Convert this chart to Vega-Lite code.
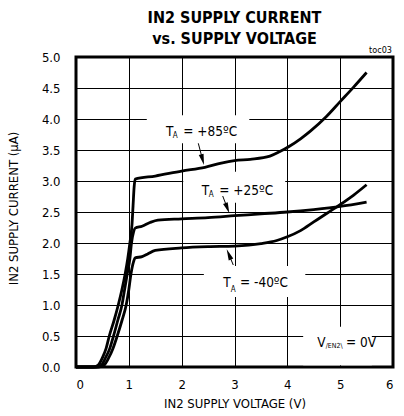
{
  "$schema": "https://vega.github.io/schema/vega-lite/v6.json",
  "autosize": "none",
  "width": 317,
  "height": 310,
  "padding": {"left": 76, "top": 57, "right": 11, "bottom": 49},
  "background": "white",
  "title": {
    "text": ["IN2 SUPPLY CURRENT", "vs. SUPPLY VOLTAGE"],
    "font": "'DejaVu Sans Condensed', 'Liberation Sans', sans-serif",
    "fontSize": 16,
    "fontWeight": "bold",
    "lineHeight": 21,
    "anchor": "middle",
    "color": "black",
    "offset": -1
  },
  "config": {
    "view": {"stroke": "black", "strokeWidth": 3},
    "font": "'DejaVu Sans Condensed', 'Liberation Sans', sans-serif",
    "axis": {
      "grid": true,
      "gridColor": "black",
      "gridOpacity": 1,
      "gridWidth": 1,
      "ticks": false,
      "tickSize": 0,
      "domain": false,
      "labelColor": "black",
      "titleColor": "black",
      "labelFont": "'DejaVu Sans Condensed', 'Liberation Sans', sans-serif",
      "titleFont": "'DejaVu Sans Condensed', 'Liberation Sans', sans-serif",
      "labelFontSize": 13,
      "titleFontSize": 13,
      "titleFontWeight": "normal"
    }
  },
  "datasets": {
    "curves": [
      {"temp": "+85", "x": 0, "y": 0}, {"temp": "+85", "x": 0.33, "y": 0}, {"temp": "+85", "x": 0.42, "y": 0.03}, {"temp": "+85", "x": 0.5, "y": 0.15}, {"temp": "+85", "x": 0.57, "y": 0.3}, {"temp": "+85", "x": 0.63, "y": 0.5}, {"temp": "+85", "x": 0.72, "y": 0.75}, {"temp": "+85", "x": 0.8, "y": 1.0}, {"temp": "+85", "x": 0.87, "y": 1.25}, {"temp": "+85", "x": 0.93, "y": 1.5}, {"temp": "+85", "x": 0.98, "y": 1.75}, {"temp": "+85", "x": 1.02, "y": 2.0}, {"temp": "+85", "x": 1.06, "y": 2.3}, {"temp": "+85", "x": 1.08, "y": 2.6}, {"temp": "+85", "x": 1.1, "y": 2.9}, {"temp": "+85", "x": 1.12, "y": 3.03}, {"temp": "+85", "x": 1.5, "y": 3.08}, {"temp": "+85", "x": 2.0, "y": 3.16}, {"temp": "+85", "x": 2.44, "y": 3.22}, {"temp": "+85", "x": 2.75, "y": 3.29}, {"temp": "+85", "x": 3.0, "y": 3.33}, {"temp": "+85", "x": 3.3, "y": 3.35}, {"temp": "+85", "x": 3.67, "y": 3.4}, {"temp": "+85", "x": 3.85, "y": 3.47}, {"temp": "+85", "x": 4.04, "y": 3.56}, {"temp": "+85", "x": 4.25, "y": 3.68}, {"temp": "+85", "x": 4.43, "y": 3.8}, {"temp": "+85", "x": 4.74, "y": 4.04}, {"temp": "+85", "x": 5.0, "y": 4.28}, {"temp": "+85", "x": 5.25, "y": 4.51}, {"temp": "+85", "x": 5.5, "y": 4.75},
      {"temp": "+25", "x": 0, "y": 0}, {"temp": "+25", "x": 0.38, "y": 0}, {"temp": "+25", "x": 0.48, "y": 0.03}, {"temp": "+25", "x": 0.56, "y": 0.15}, {"temp": "+25", "x": 0.64, "y": 0.3}, {"temp": "+25", "x": 0.71, "y": 0.5}, {"temp": "+25", "x": 0.79, "y": 0.75}, {"temp": "+25", "x": 0.87, "y": 1.0}, {"temp": "+25", "x": 0.92, "y": 1.25}, {"temp": "+25", "x": 0.97, "y": 1.5}, {"temp": "+25", "x": 1.02, "y": 1.75}, {"temp": "+25", "x": 1.05, "y": 2.0}, {"temp": "+25", "x": 1.09, "y": 2.18}, {"temp": "+25", "x": 1.12, "y": 2.24}, {"temp": "+25", "x": 1.25, "y": 2.27}, {"temp": "+25", "x": 1.4, "y": 2.33}, {"temp": "+25", "x": 1.55, "y": 2.37}, {"temp": "+25", "x": 2.0, "y": 2.39}, {"temp": "+25", "x": 2.5, "y": 2.41}, {"temp": "+25", "x": 3.0, "y": 2.44}, {"temp": "+25", "x": 3.5, "y": 2.47}, {"temp": "+25", "x": 4.0, "y": 2.5}, {"temp": "+25", "x": 4.5, "y": 2.54}, {"temp": "+25", "x": 5.0, "y": 2.59}, {"temp": "+25", "x": 5.5, "y": 2.66},
      {"temp": "-40", "x": 0, "y": 0}, {"temp": "-40", "x": 0.43, "y": 0}, {"temp": "-40", "x": 0.53, "y": 0.03}, {"temp": "-40", "x": 0.62, "y": 0.15}, {"temp": "-40", "x": 0.7, "y": 0.3}, {"temp": "-40", "x": 0.78, "y": 0.5}, {"temp": "-40", "x": 0.87, "y": 0.75}, {"temp": "-40", "x": 0.95, "y": 1.0}, {"temp": "-40", "x": 1.0, "y": 1.25}, {"temp": "-40", "x": 1.04, "y": 1.5}, {"temp": "-40", "x": 1.09, "y": 1.7}, {"temp": "-40", "x": 1.12, "y": 1.76}, {"temp": "-40", "x": 1.25, "y": 1.78}, {"temp": "-40", "x": 1.35, "y": 1.82}, {"temp": "-40", "x": 1.5, "y": 1.88}, {"temp": "-40", "x": 2.0, "y": 1.92}, {"temp": "-40", "x": 2.5, "y": 1.94}, {"temp": "-40", "x": 3.0, "y": 1.95}, {"temp": "-40", "x": 3.5, "y": 1.99}, {"temp": "-40", "x": 3.8, "y": 2.04}, {"temp": "-40", "x": 4.0, "y": 2.1}, {"temp": "-40", "x": 4.25, "y": 2.2}, {"temp": "-40", "x": 4.5, "y": 2.34}, {"temp": "-40", "x": 4.75, "y": 2.48}, {"temp": "-40", "x": 5.0, "y": 2.62}, {"temp": "-40", "x": 5.25, "y": 2.77}, {"temp": "-40", "x": 5.5, "y": 2.94}
    ],
    "boxes": [
      {"x": 1.34, "x2": 3.28, "y": 3.61, "y2": 4.06},
      {"x": 2.03, "x2": 3.96, "y": 2.65, "y2": 3.15},
      {"x": 2.42, "x2": 4.34, "y": 1.13, "y2": 1.63},
      {"x": 4.3, "x2": 5.6, "y": 0.03, "y2": 0.65}
    ],
    "arrows": [
      {"label": "+85", "x": 2.315, "y": 3.608, "x2": 2.396, "y2": 3.344},
      {"label": "+25", "x": 2.777, "y": 2.758, "x2": 2.865, "y2": 2.562},
      {"label": "-40", "x": 2.977, "y": 1.645, "x2": 2.893, "y2": 1.816}
    ],
    "labels": [
      {"part": "main", "x": 1.704, "y": 3.731, "text": "T"},
      {"part": "sub", "x": 1.83, "y": 3.689, "text": "A"},
      {"part": "main", "x": 2.03, "y": 3.731, "text": "= +85ºC"},
      {"part": "main", "x": 2.379, "y": 2.774, "text": "T"},
      {"part": "sub", "x": 2.511, "y": 2.737, "text": "A"},
      {"part": "main", "x": 2.712, "y": 2.774, "text": "= +25ºC"},
      {"part": "main", "x": 2.788, "y": 1.285, "text": "T"},
      {"part": "sub", "x": 2.928, "y": 1.214, "text": "A"},
      {"part": "main", "x": 3.104, "y": 1.285, "text": "= -40ºC"},
      {"part": "main", "x": 4.567, "y": 0.327, "text": "V"},
      {"part": "sub2", "x": 4.726, "y": 0.301, "text": "/EN2\\"},
      {"part": "main", "x": 5.11, "y": 0.327, "text": "= 0V"}
    ],
    "note": [{"x": 5.98, "y": 5.065, "text": "toc03"}]
  },
  "encoding": {
    "x": {
      "field": "x", "type": "quantitative",
      "scale": {"domain": [0, 6], "nice": false, "zero": false},
      "axis": {"values": [0, 1, 2, 3, 4, 5, 6], "format": "d", "labelPadding": 11, "labelBaseline": "top", "titleY": 40, "titleBaseline": "alphabetic"},
      "title": "IN2 SUPPLY VOLTAGE (V)"
    },
    "y": {
      "field": "y", "type": "quantitative",
      "scale": {"domain": [0, 5], "nice": false, "zero": false},
      "axis": {"values": [0, 0.5, 1, 1.5, 2, 2.5, 3, 3.5, 4, 4.5, 5], "format": ".1f", "labelPadding": 16, "titleX": -59, "titleY": 151, "titleAngle": 270, "titleBaseline": "alphabetic", "titleAlign": "center"},
      "title": "IN2 SUPPLY CURRENT (µA)"
    }
  },
  "layer": [
    {
      "data": {"name": "boxes"},
      "mark": {"type": "rect", "fill": "white", "stroke": null},
      "encoding": {"x2": {"field": "x2"}, "y2": {"field": "y2"}}
    },
    {
      "data": {"name": "curves"},
      "mark": {"type": "line", "color": "black", "strokeWidth": 2.8, "interpolate": "monotone"},
      "encoding": {"detail": {"field": "temp", "type": "nominal"}}
    },
    {
      "data": {"name": "arrows"},
      "mark": {"type": "rule", "color": "black", "strokeWidth": 1},
      "encoding": {"x2": {"field": "x2"}, "y2": {"field": "y2"}}
    },
    {
      "data": {"name": "arrows"},
      "transform": [{"filter": "datum.label == '+85'"}],
      "mark": {"type": "point", "shape": "M0,-1L0.45,1L-0.45,1Z", "filled": true, "color": "black", "opacity": 1, "size": 121, "angle": 165},
      "encoding": {"x": {"field": "x2", "type": "quantitative"}, "y": {"field": "y2", "type": "quantitative"}}
    },
    {
      "data": {"name": "arrows"},
      "transform": [{"filter": "datum.label == '+25'"}],
      "mark": {"type": "point", "shape": "M0,-1L0.45,1L-0.45,1Z", "filled": true, "color": "black", "opacity": 1, "size": 121, "angle": 159},
      "encoding": {"x": {"field": "x2", "type": "quantitative"}, "y": {"field": "y2", "type": "quantitative"}}
    },
    {
      "data": {"name": "arrows"},
      "transform": [{"filter": "datum.label == '-40'"}],
      "mark": {"type": "point", "shape": "M0,-1L0.45,1L-0.45,1Z", "filled": true, "color": "black", "opacity": 1, "size": 121, "angle": 337},
      "encoding": {"x": {"field": "x2", "type": "quantitative"}, "y": {"field": "y2", "type": "quantitative"}}
    },
    {
      "data": {"name": "labels"},
      "transform": [{"filter": "datum.part == 'main'"}],
      "mark": {"type": "text", "align": "left", "baseline": "alphabetic", "fontSize": 13.5, "color": "black"},
      "encoding": {"text": {"field": "text"}}
    },
    {
      "data": {"name": "labels"},
      "transform": [{"filter": "datum.part == 'sub'"}],
      "mark": {"type": "text", "align": "left", "baseline": "alphabetic", "fontSize": 8, "color": "black"},
      "encoding": {"text": {"field": "text"}}
    },
    {
      "data": {"name": "labels"},
      "transform": [{"filter": "datum.part == 'sub2'"}],
      "mark": {"type": "text", "align": "left", "baseline": "alphabetic", "fontSize": 7, "color": "black"},
      "encoding": {"text": {"field": "text"}}
    },
    {
      "data": {"name": "note"},
      "mark": {"type": "text", "align": "right", "baseline": "alphabetic", "fontSize": 9, "color": "black"},
      "encoding": {"text": {"field": "text"}}
    }
  ]
}
